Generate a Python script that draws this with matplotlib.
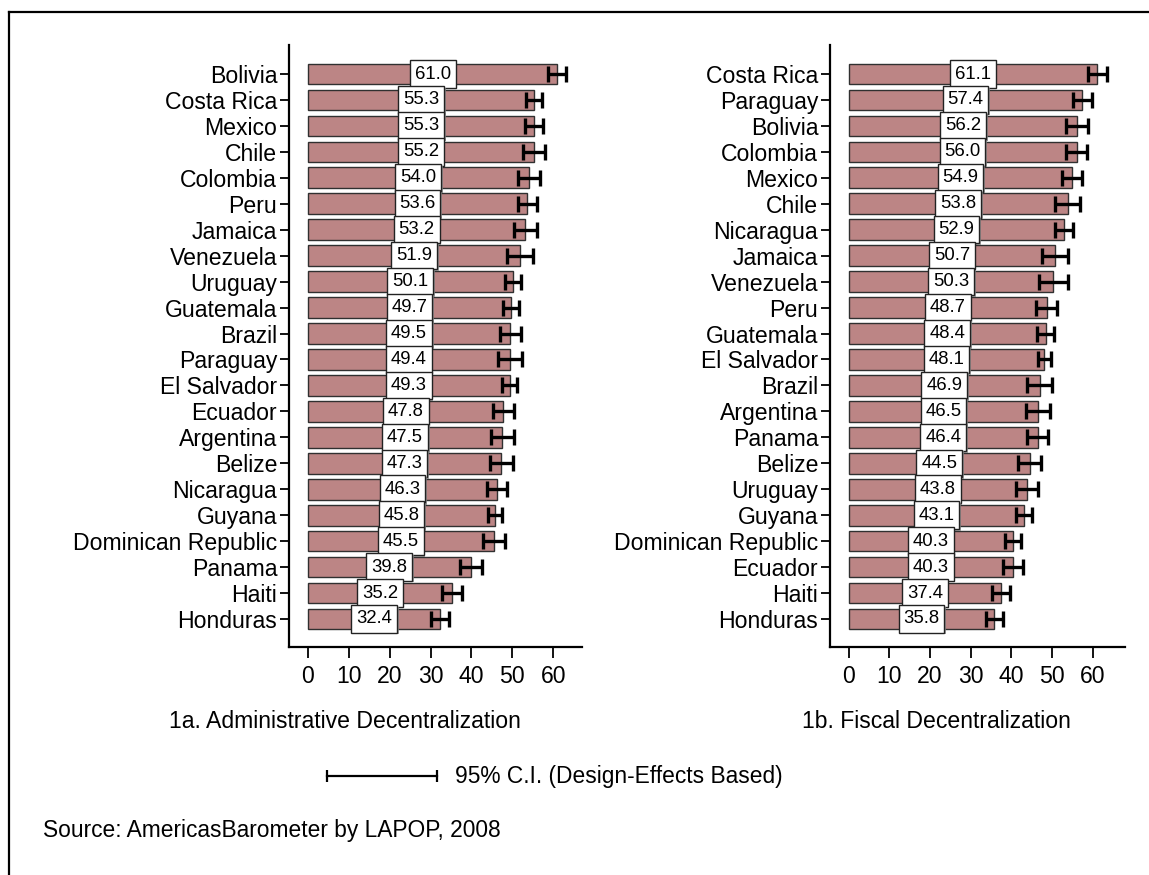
import matplotlib
matplotlib.use('Agg')

import matplotlib.pyplot as plt
import matplotlib.patheffects as pe
from matplotlib.patches import Rectangle
from matplotlib.lines import Line2D
import numpy as np

plt.rcParams['font.family'] = ['Liberation Sans', 'DejaVu Sans']

# 1a. administrative decentralization, sorted high to low
admin_countries = ["Bolivia", "Costa Rica", "Mexico", "Chile", "Colombia", "Peru",
                   "Jamaica", "Venezuela", "Uruguay", "Guatemala", "Brazil", "Paraguay",
                   "El Salvador", "Ecuador", "Argentina", "Belize", "Nicaragua", "Guyana",
                   "Dominican Republic", "Panama", "Haiti", "Honduras"]
admin_values = [61.0, 55.3, 55.3, 55.2, 54.0, 53.6, 53.2, 51.9, 50.1, 49.7, 49.5,
                49.4, 49.3, 47.8, 47.5, 47.3, 46.3, 45.8, 45.5, 39.8, 35.2, 32.4]
admin_ci = [2.2, 2.0, 2.1, 2.7, 2.7, 2.3, 2.7, 3.2, 2.0, 2.0, 2.6,
            2.9, 1.8, 2.5, 2.8, 2.8, 2.4, 1.7, 2.6, 2.7, 2.4, 2.2]

# 1b. fiscal decentralization
fiscal_countries = ["Costa Rica", "Paraguay", "Bolivia", "Colombia", "Mexico", "Chile",
                    "Nicaragua", "Jamaica", "Venezuela", "Peru", "Guatemala", "El Salvador",
                    "Brazil", "Argentina", "Panama", "Belize", "Uruguay", "Guyana",
                    "Dominican Republic", "Ecuador", "Haiti", "Honduras"]
fiscal_values = [61.1, 57.4, 56.2, 56.0, 54.9, 53.8, 52.9, 50.7, 50.3, 48.7, 48.4,
                 48.1, 46.9, 46.5, 46.4, 44.5, 43.8, 43.1, 40.3, 40.3, 37.4, 35.8]
fiscal_ci = [2.4, 2.4, 2.7, 2.6, 2.5, 3.0, 2.3, 3.1, 3.5, 2.6, 2.1,
             1.7, 3.0, 3.0, 2.6, 2.8, 2.6, 1.9, 2.0, 2.5, 2.2, 2.1]

xticks = [0, 10, 20, 30, 40, 50, 60]

bar_color = '#bc8585'
fs = 16.6

fig = plt.figure(figsize=(11.49, 8.75), dpi=100)


def panel(rect, countries, values, ci, xmax):
    ax = fig.add_axes(rect)
    y = np.arange(len(countries))
    ax.barh(y, values, height=0.8, color=bar_color, edgecolor='#303030',
            linewidth=1.0, zorder=2)
    ax.errorbar(values, y, xerr=ci, fmt='none', ecolor='black', elinewidth=2.4,
                capsize=6, capthick=2.4, zorder=3)
    # value boxes sit in the middle of each bar
    for i, v in enumerate(values):
        box = Rectangle((v / 2 - 5.6, i - 0.53), 11.2, 1.06, facecolor='white',
                        edgecolor='#222222', linewidth=1.0, zorder=4 + i * 0.01)
        box.set_path_effects([pe.SimplePatchShadow(offset=(1.2, -1.2),
                                                   shadow_rgbFace='#888888', alpha=0.8),
                              pe.Normal()])
        ax.add_patch(box)
        ax.text(v / 2, i, '%.1f' % v, ha='center', va='center', fontsize=13.3,
                zorder=5 + i * 0.01)
    ax.set_ylim(len(countries) - 1 + 1.08, -1.12)
    ax.set_xlim(-4.6, xmax)
    ax.set_yticks(y)
    ax.set_yticklabels(countries)
    ax.set_xticks(xticks)
    ax.spines['top'].set_visible(False)
    ax.spines['right'].set_visible(False)
    ax.spines['left'].set_linewidth(1.6)
    ax.spines['bottom'].set_linewidth(1.6)
    ax.tick_params(axis='y', length=6.5, width=1.3, pad=2, labelsize=fs)
    ax.tick_params(axis='x', length=8, width=1.3, pad=5, labelsize=fs)
    return ax


panel([0.2515, 0.2606, 0.255, 0.688], admin_countries, admin_values, admin_ci, 67.0)
panel([0.7224, 0.2606, 0.2567, 0.688], fiscal_countries, fiscal_values, fiscal_ci, 67.9)

fig.text(0.300, 0.176, '1a. Administrative Decentralization', ha='center', va='center', fontsize=fs)
fig.text(0.815, 0.176, '1b. Fiscal Decentralization', ha='center', va='center', fontsize=fs)

# confidence interval key
fig.add_artist(Line2D([327 / 1149, 437 / 1149], [0.1131, 0.1131], color='black',
                      linewidth=1.6, marker='|', markersize=9, markeredgewidth=1.6,
                      transform=fig.transFigure))
fig.text(455 / 1149, 0.1131, '95% C.I. (Design-Effects Based)', ha='left', va='center', fontsize=16.4)

fig.text(0.0372, 0.0514, 'Source: AmericasBarometer by LAPOP, 2008', ha='left', va='center', fontsize=16.4)

# outer frame: left and top edges
fig.add_artist(Line2D([9 / 1149, 9 / 1149], [0, 1 - 12 / 875], color='black',
                      linewidth=1.6, transform=fig.transFigure))
fig.add_artist(Line2D([9 / 1149, 1], [1 - 12 / 875, 1 - 12 / 875], color='black',
                      linewidth=1.6, transform=fig.transFigure))

plt.savefig('out.png', dpi=100)
